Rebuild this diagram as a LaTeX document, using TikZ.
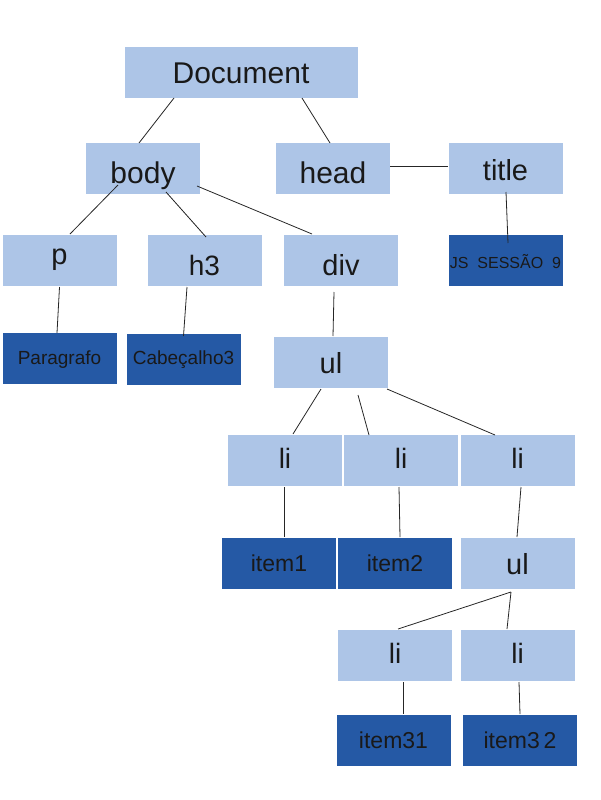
\documentclass[tikz,border=0pt]{standalone}
\usepackage{fontspec}
\setmainfont{Liberation Sans}
\usepackage{tikz}
\usetikzlibrary{arrows}
\definecolor{lightbox}{RGB}{173,197,231}
\definecolor{darkbox}{RGB}{37,89,165}

\begin{document}
\begin{tikzpicture}[x=1pt,y=-1pt,
    lift/.style={text height=26pt+#1,text depth=26pt-#1},
    main node/.style={rectangle,fill=lightbox,draw=white,line width=0.6pt,inner sep=0pt,minimum width=115pt,minimum height=52pt,text=black!90,font=\fontsize{29}{34}\selectfont,lift=15pt},
    leaf node/.style={main node,fill=darkbox,font=\fontsize{23}{27}\selectfont,lift=8.5pt}]
    \useasboundingbox (0,0) rectangle (600,800);
    \node[main node,minimum width=234pt,font=\fontsize{30}{36}\selectfont,lift=12pt] (1) at (241,72) {Document};
    \node[main node,font=\fontsize{30}{36}\selectfont] (2) at (143,168.5) {body};
    \node[main node,font=\fontsize{30}{36}\selectfont] (3) at (333,168.5) {head};
    \node[main node,lift=11.5pt] (4) at (505.5,168.5) {title};
    \node[main node,lift=4pt] (5) at (59.5,260) {p};
    \node[main node,font=\fontsize{28}{34}\selectfont] (6) at (204.5,260) {h3};
    \node[main node] (7) at (341,260) {div};
    \node[leaf node,font=\fontsize{16}{20}\selectfont,lift=8pt] (8) at (505.5,260) {JS\ \ SESSÃO\ \ 9};
    \node[leaf node,font=\fontsize{19}{23}\selectfont,lift=6pt] (9) at (59.5,358) {Paragrafo};
    \node[leaf node,font=\fontsize{19}{23}\selectfont,lift=5pt] (10) at (183.5,359) {Cabeçalho3};
    \node[main node,lift=11pt] (11) at (331,362) {ul};
    \node[main node,font=\fontsize{28}{34}\selectfont,lift=8pt] (12) at (285,460) {li};
    \node[main node,font=\fontsize{28}{34}\selectfont,lift=8pt] (13) at (401,460) {li};
    \node[main node,font=\fontsize{28}{34}\selectfont,lift=8pt] (14) at (517.5,460) {li};
    \node[leaf node] (15) at (279,563) {item1};
    \node[leaf node] (16) at (395,563) {item2};
    \node[main node,lift=11pt] (17) at (517.5,563) {ul};
    \node[main node,font=\fontsize{28}{34}\selectfont,lift=8pt] (18) at (395,655) {li};
    \node[main node,font=\fontsize{28}{34}\selectfont,lift=8pt] (19) at (517.5,655) {li};
    \node[leaf node,lift=8pt] (20) at (393.5,740) {item31};
    \node[leaf node,lift=8pt] (21) at (520,740) {item3\,2};

    \path[every edge/.style={draw=black!85,line width=0.8pt}]
    ([shift={(-67,26)}]1.center) edge ([shift={(-4,-25.5)}]2.center)
    ([shift={(61,26)}]1.center) edge ([shift={(-3,-25.5)}]3.center)
    ([shift={(57,-2.5)}]3.center) edge ([shift={(-57.5,-2.5)}]4.center)
    ([shift={(-25,16.5)}]2.center) edge ([shift={(10.5,-26)}]5.center)
    ([shift={(23,23.5)}]2.center) edge ([shift={(1.5,-23)}]6.center)
    ([shift={(54,17.5)}]2.center) edge ([shift={(-29,-26)}]7.center)
    ([shift={(0.5,23.5)}]4.center) edge ([shift={(2.5,-17)}]8.center)
    ([shift={(0,27)}]5.center) edge ([shift={(-2.5,-25)}]9.center)
    ([shift={(-17.5,27)}]6.center) edge ([shift={(0,-23)}]10.center)
    ([shift={(-7,32)}]7.center) edge ([shift={(2,-26)}]11.center)
    ([shift={(-10,27)}]11.center) edge ([shift={(8,-26)}]12.center)
    ([shift={(27,33)}]11.center) edge ([shift={(-32,-25)}]13.center)
    ([shift={(56,27)}]11.center) edge ([shift={(-22.5,-25)}]14.center)
    ([shift={(-1,27)}]12.center) edge ([shift={(5,-26)}]15.center)
    ([shift={(-2,27)}]13.center) edge ([shift={(5,-26)}]16.center)
    ([shift={(3.5,27)}]14.center) edge ([shift={(-0.5,-26)}]17.center)
    ([shift={(-6.5,29)}]17.center) edge ([shift={(3,-26)}]18.center)
    ([shift={(-6.5,29)}]17.center) edge ([shift={(-10.5,-26)}]19.center)
    ([shift={(8,27)}]18.center) edge ([shift={(9.5,-26)}]20.center)
    ([shift={(1.5,27)}]19.center) edge ([shift={(0,-26)}]21.center);
\end{tikzpicture}
\end{document}
